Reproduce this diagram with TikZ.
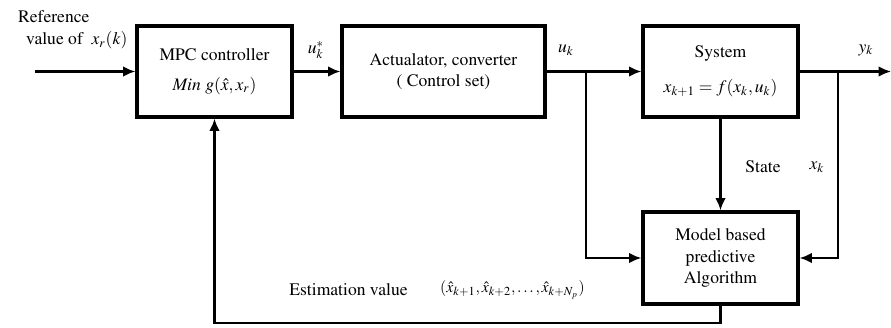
\documentclass[tikz,border=0pt]{standalone}
\usepackage{amsmath,amssymb}
\usepackage[T1]{fontenc}
\usepackage{mathptmx}
\usetikzlibrary{arrows.meta,positioning,calc}

\begin{document}
\begin{tikzpicture}[font=\fontsize{10}{12}\selectfont,
  blk/.style={draw,line width=1.9pt,minimum width=3.1cm,minimum height=1.82cm,align=center,inner sep=2pt},
  arr/.style={-{Latex[length=7pt,width=6pt]},line width=1.2pt}]
\useasboundingbox (0,0) rectangle (17.82,6.54);
\node[blk] (mpc) at (4.29,5.11) {MPC controller\\[5pt]$\mathit{Min}\ g(\hat{x},x_r)$};
\node[blk,minimum width=4.06cm] (act) at (8.87,5.11) {Actualator, converter\\( Control set)};
\node[blk] (sys) at (14.41,5.11) {System\\[8pt]$x_{k+1}=f(x_k,u_k)$};
\node[blk,minimum height=1.84cm] (mod) at (14.41,1.38) {Model based\\predictive\\Algorithm};
\coordinate (in) at (0.7,5.11);
\coordinate (out) at (17.82,5.11);
\coordinate (ub) at (11.72,5.11);
\coordinate (yb) at (16.76,5.11);
\coordinate (fb) at (14.41,0.08);
\draw[arr] (in) -- (mpc);
\draw[arr] (mpc) -- (act);
\draw[arr] (act) -- (sys);
\draw[arr] (sys) -- (out);
\draw[arr] (ub) |- (mod);
\draw[arr] (yb) |- (mod);
\draw[arr] (sys) -- (mod);
\draw[arr] (mod) -- (fb) -| (mpc);
\node[anchor=west] (ref1) at (0.24,6.2) {Reference};
\node[anchor=west] (ref2) at (0.4,5.74) {value of \ $x_r(k)$};
\node (ustar) at (6.32,5.54) {$u_k^*$};
\node (uk) at (11.32,5.54) {$u_k$};
\node (yk) at (17.32,5.54) {$y_k$};
\node (st) at (15.26,3.2) {State};
\node (xk) at (16.34,3.2) {$x_k$};
\node (est) at (6.97,0.74) {Estimation value};
\node[font=\small] (tup) at (10.25,0.74) {$(\hat{x}_{k+1},\hat{x}_{k+2},\ldots,\hat{x}_{k+N_p})$};
\end{tikzpicture}
\end{document}
